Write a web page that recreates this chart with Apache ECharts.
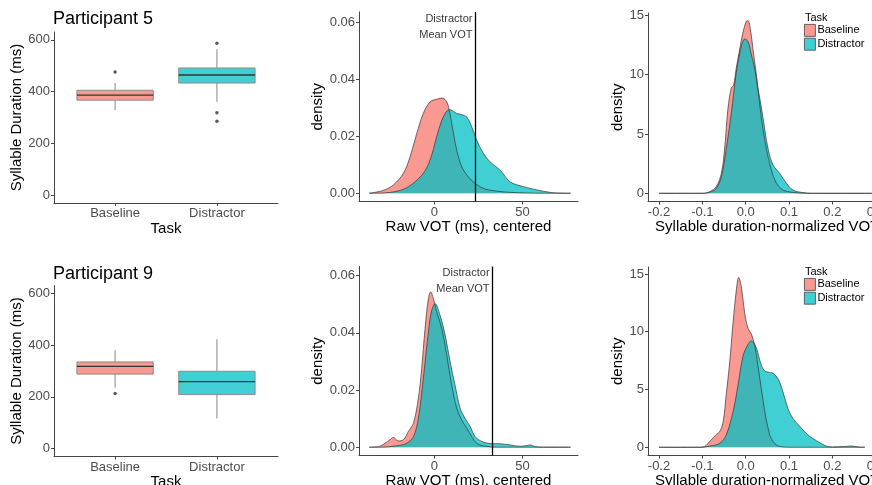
<!DOCTYPE html>
<html>
<head>
<meta charset="utf-8">
<script src="https://cdn.jsdelivr.net/npm/echarts@6/dist/echarts.min.js"></script>
<style>
html, body { margin: 0; padding: 0; background: #fff; }
#main { width: 872px; height: 485px; }
</style>
</head>
<body>
<div id="main"></div>
<script>
var tasks = ['Baseline', 'Distractor'];

// box stats: [x, lower whisker, Q1, median, Q3, upper whisker]
var box5 = [[1, 329, 367, 386, 405, 433], [2, 361, 433, 464, 491, 563]];
var out5 = [[1, 476], [2, 587], [2, 318], [2, 286]];
var box9 = [[1, 235, 288, 318, 335, 382], [2, 117, 209, 259, 299, 423]];
var out9 = [[1, 213]];

// distractor mean VOT (vertical line)
var mean5 = 23.3;
var mean9 = 33;

// raw VOT densities, participant 5
var raw5Base = [[-37, 0], [-29, 0.001], [-23.3, 0.0029], [-17.6, 0.007], [-13.8, 0.0128], [-10, 0.021], [-6.3, 0.028],
  [-2.5, 0.032], [1.3, 0.033], [4.7, 0.0334], [7, 0.032], [8.5, 0.029], [10.8, 0.021], [12.7, 0.015], [15.5, 0.0093],
  [18.4, 0.0064], [22, 0.004], [27.8, 0.0017], [33.5, 0.0009], [39, 0.0005], [46.8, 0.0002], [62, 0], [77.3, 0]];
var raw5Dist = [[-37, 0], [-34.7, 0], [-25, 0.0003], [-17.6, 0.0014], [-12, 0.0035], [-6.3, 0.007], [-2.5, 0.0116],
  [1.3, 0.0198], [4.2, 0.0256], [7, 0.0288], [8.9, 0.0293], [12.7, 0.028], [15.5, 0.0276], [18.4, 0.0267], [21.2, 0.0233],
  [24, 0.0186], [27.8, 0.014], [31.6, 0.011], [37.3, 0.0081], [43, 0.004], [50.6, 0.0023], [58, 0.0012], [65.7, 0.0003],
  [73.7, 0], [77.3, 0]];

// normalized VOT densities, participant 5
var norm5Base = [[-0.2, 0], [-0.098, 0], [-0.083, 0.14], [-0.068, 0.56], [-0.056, 1.7], [-0.048, 4.0], [-0.041, 7.1],
  [-0.033, 8.9], [-0.028, 9.1], [-0.0215, 10.6], [-0.014, 12.1], [-0.006, 13.6], [0.0015, 14.5], [0.0054, 14.55],
  [0.011, 13.8], [0.017, 12.1], [0.025, 9.9], [0.032, 7.6], [0.04, 5.4], [0.048, 3.7], [0.059, 2.0], [0.071, 0.85],
  [0.086, 0.28], [0.109, 0.08], [0.14, 0], [0.3, 0]];
var norm5Dist = [[-0.2, 0], [-0.098, 0], [-0.079, 0.14], [-0.068, 0.4], [-0.056, 1.4], [-0.045, 3.7], [-0.033, 6.8],
  [-0.0215, 10.2], [-0.01, 12.4], [-0.0023, 13.0], [0.0054, 12.8], [0.013, 11.7], [0.021, 10.5], [0.028, 8.9],
  [0.036, 7.3], [0.044, 5.4], [0.052, 3.7], [0.063, 2.4], [0.078, 1.7], [0.094, 0.85], [0.109, 0.28], [0.132, 0.06],
  [0.155, 0], [0.3, 0]];

// raw VOT densities, participant 9
var raw9Base = [[-37, 0], [-31.8, 0.0002], [-28, 0.0014], [-25.2, 0.0026], [-23.3, 0.0034], [-20.5, 0.0022],
  [-17.6, 0.0026], [-14.8, 0.0055], [-11.9, 0.0084], [-9.1, 0.0171], [-7.2, 0.0276], [-5.3, 0.0415], [-3.4, 0.052],
  [-2.1, 0.0543], [-0.6, 0.052], [1.3, 0.0473], [4.2, 0.0415], [7, 0.0322], [9.8, 0.0217], [12.7, 0.0136],
  [15.5, 0.0095], [18.4, 0.0066], [21.2, 0.0037], [24, 0.0014], [27.8, 0.0005], [35.4, 0], [77.3, 0]];
var raw9Dist = [[-37, 0], [-30.9, 0], [-21.4, 0.0005], [-15.7, 0.0014], [-11.9, 0.0037], [-9.1, 0.0101], [-6.3, 0.024],
  [-3.4, 0.0403], [-1.5, 0.0479], [0.4, 0.0502], [3.2, 0.0462], [6.1, 0.0392], [8.9, 0.0299], [11.7, 0.0217],
  [14.6, 0.0136], [17.4, 0.0101], [20.3, 0.0072], [23.1, 0.0037], [26.9, 0.002], [31.6, 0.0013], [37.3, 0.0012],
  [43, 0.0008], [48.7, 0.0003], [52.5, 0.0006], [54.4, 0.0008], [57.2, 0.0002], [61.9, 0], [77.3, 0]];

// normalized VOT densities, participant 9
var norm9Base = [[-0.2, 0], [-0.106, 0], [-0.095, 0.06], [-0.083, 0.5], [-0.075, 0.83], [-0.068, 1.1], [-0.06, 1.35],
  [-0.052, 2.2], [-0.045, 4.5], [-0.037, 7.3], [-0.029, 10.8], [-0.0215, 13.6], [-0.016, 14.7], [-0.01, 13.9],
  [-0.0023, 11.6], [0.0054, 10.3], [0.013, 9.8], [0.021, 8.8], [0.028, 7.1], [0.036, 5.1], [0.044, 3.1], [0.052, 1.6],
  [0.059, 0.77], [0.071, 0.2], [0.086, 0.03], [0.109, 0], [0.275, 0]];
var norm9Dist = [[-0.2, 0], [-0.106, 0], [-0.083, 0.1], [-0.06, 0.34], [-0.045, 1.06], [-0.029, 3.1], [-0.018, 5.3],
  [-0.006, 7.9], [0.0054, 8.9], [0.013, 9.2], [0.021, 8.9], [0.028, 8.2], [0.036, 7.1], [0.044, 6.6], [0.052, 6.5],
  [0.063, 6.4], [0.075, 5.9], [0.086, 4.8], [0.098, 3.3], [0.109, 2.5], [0.125, 1.8], [0.14, 1.2], [0.155, 0.77],
  [0.171, 0.4], [0.186, 0.11], [0.2, 0.03], [0.225, 0.06], [0.244, 0.11], [0.26, 0.03], [0.275, 0]];

// tick labels
var durTicks = [0, 200, 400, 600];
var taskTicks = [1, 2];
var rawXTicks = [0, 50];
var rawYTicks = [0, 0.02, 0.04, 0.06];
var normXTicks = [-0.2, -0.1, 0, 0.1, 0.2, 0.3];
var normYTicks = [0, 5, 10, 15];

var FONT = 'Liberation Sans, Arial, sans-serif';
var fillBase = 'rgba(248,118,109,0.75)';
var fillDist = 'rgba(0,191,196,0.75)';
var boxFills = [fillBase, fillDist];

var chart = echarts.init(document.getElementById('main'));

function axisOf(grid, min, max, ticks, fmt, name, nameGap) {
  return {
    type: 'value', gridIndex: grid, min: min, max: max,
    name: name, nameLocation: 'middle', nameGap: nameGap,
    nameTextStyle: { color: '#000', fontSize: 15, fontFamily: FONT },
    axisLine: { onZero: false, lineStyle: { color: '#444', width: 1 } },
    axisTick: { customValues: ticks, length: 3, lineStyle: { color: '#444' } },
    axisLabel: { customValues: ticks, formatter: fmt, color: '#4d4d4d', fontSize: 13, margin: 4, fontFamily: FONT },
    splitLine: { show: false }
  };
}

function taskName(v) { return tasks[Math.round(v) - 1]; }
function fix2(v) { return v.toFixed(2); }
function fix1(v) { return v.toFixed(1); }
function plain(v) { return String(v); }

function renderBox(params, api) {
  var x = api.value(0);
  var lo = api.coord([x, api.value(1)]);
  var q1 = api.coord([x, api.value(2)]);
  var md = api.coord([x, api.value(3)]);
  var q3 = api.coord([x, api.value(4)]);
  var hi = api.coord([x, api.value(5)]);
  var xl = api.coord([x - 0.375, 0])[0];
  var xr = api.coord([x + 0.375, 0])[0];
  var whisker = { stroke: '#9a9a9a', lineWidth: 1.2 };
  return {
    type: 'group',
    children: [
      { type: 'line', shape: { x1: lo[0], y1: lo[1], x2: q1[0], y2: q1[1] }, style: whisker },
      { type: 'line', shape: { x1: q3[0], y1: q3[1], x2: hi[0], y2: hi[1] }, style: whisker },
      { type: 'rect', shape: { x: xl, y: q3[1], width: xr - xl, height: q1[1] - q3[1] },
        style: { fill: boxFills[params.dataIndex], stroke: '#8c8c8c', lineWidth: 1 } },
      { type: 'line', shape: { x1: xl, y1: md[1], x2: xr, y2: md[1] }, style: { stroke: '#333', lineWidth: 1.3 } }
    ]
  };
}

function density(name, grid, data, fill, extra) {
  var s = {
    name: name, type: 'line', xAxisIndex: grid, yAxisIndex: grid, data: data,
    showSymbol: false, symbol: 'none', smooth: 0.35, silent: true,
    itemStyle: { color: fill },
    lineStyle: { color: '#333', width: 0.7 },
    areaStyle: { color: fill, opacity: 1 }
  };
  if (extra) { for (var k in extra) s[k] = extra[k]; }
  return s;
}

function meanLine(v) {
  return {
    silent: true, symbol: ['none', 'none'], label: { show: false },
    lineStyle: { color: '#000', width: 1.3, type: 'solid' },
    data: [{ xAxis: v }]
  };
}

function annotation(grid, v) {
  return {
    type: 'scatter', xAxisIndex: grid, yAxisIndex: grid, data: [[v, 0.0582]],
    symbolSize: 0, silent: true,
    label: {
      show: true, formatter: 'Distractor\nMean VOT', position: 'left', distance: 3,
      color: '#000', fontSize: 11, lineHeight: 16, fontFamily: FONT
    }
  };
}

var legendData = [
  { name: 'Baseline', itemStyle: { color: fillBase, borderColor: '#444', borderWidth: 0.8 } },
  { name: 'Distractor', itemStyle: { color: fillDist, borderColor: '#444', borderWidth: 0.8 } }
];

function legendAt(top) {
  return {
    orient: 'vertical', left: 804, top: top, padding: 0, icon: 'rect',
    itemWidth: 11, itemHeight: 12, itemGap: 1, selectedMode: false,
    textStyle: { color: '#000', fontSize: 11, fontFamily: FONT, padding: [0, 0, 0, -3] },
    data: legendData
  };
}

function titleAt(text, left, top, size) {
  return {
    text: text, left: left, top: top, padding: 0,
    textStyle: { color: '#000', fontSize: size, fontWeight: 'normal', fontFamily: FONT }
  };
}

// grids may run past the canvas edge, as in the reference
function gridAt(left, top, width, height) {
  return { left: left, top: top, width: width, height: height, outerBoundsMode: 'none', containLabel: false };
}

var option = {
  animation: false,
  backgroundColor: '#fff',
  textStyle: { fontFamily: FONT },
  title: [
    titleAt('Participant 5', 53, 10, 18),
    titleAt('Participant 9', 53, 265, 18),
    titleAt('Task', 805, 12, 11),
    titleAt('Task', 805, 266, 11)
  ],
  legend: [legendAt(24), legendAt(278)],
  grid: [
    gridAt(54, 32, 224, 171),
    gridAt(359, 12, 219, 189.5),
    gridAt(648, 13, 238.5, 188.5),
    gridAt(54, 285.5, 224, 171),
    gridAt(359, 266.5, 219, 189),
    gridAt(648, 267, 238.5, 188.5)
  ],
  xAxis: [
    axisOf(0, 0.4, 2.6, taskTicks, taskName, 'Task', 16),
    axisOf(1, -42.8, 81.5, rawXTicks, plain, 'Raw VOT (ms), centered', 16),
    axisOf(2, -0.2254, 0.325, normXTicks, fix1, 'Syllable duration-normalized VOT', 16),
    axisOf(3, 0.4, 2.6, taskTicks, taskName, 'Task', 16),
    axisOf(4, -42.8, 81.5, rawXTicks, plain, 'Raw VOT (ms), centered', 16),
    axisOf(5, -0.2254, 0.325, normXTicks, fix1, 'Syllable duration-normalized VOT', 16)
  ],
  yAxis: [
    axisOf(0, -30, 630, durTicks, plain, 'Syllable Duration (ms)', 26),
    axisOf(1, -0.0029, 0.0636, rawYTicks, fix2, 'density', 31),
    axisOf(2, -0.69, 15.2, normYTicks, plain, 'density', 19),
    axisOf(3, -30, 630, durTicks, plain, 'Syllable Duration (ms)', 26),
    axisOf(4, -0.0029, 0.0632, rawYTicks, fix2, 'density', 31),
    axisOf(5, -0.71, 15.6, normYTicks, plain, 'density', 19)
  ],
  series: [
    { type: 'custom', xAxisIndex: 0, yAxisIndex: 0, renderItem: renderBox, data: box5, encode: { x: 0, y: [1, 2, 3, 4, 5] }, silent: true },
    { type: 'scatter', xAxisIndex: 0, yAxisIndex: 0, data: out5, symbolSize: 3.5, itemStyle: { color: '#333' }, silent: true },
    density('Baseline', 1, raw5Base, fillBase),
    density('Distractor', 1, raw5Dist, fillDist, { markLine: meanLine(mean5) }),
    annotation(1, mean5),
    density('Baseline', 2, norm5Base, fillBase),
    density('Distractor', 2, norm5Dist, fillDist),
    { type: 'custom', xAxisIndex: 3, yAxisIndex: 3, renderItem: renderBox, data: box9, encode: { x: 0, y: [1, 2, 3, 4, 5] }, silent: true },
    { type: 'scatter', xAxisIndex: 3, yAxisIndex: 3, data: out9, symbolSize: 3.5, itemStyle: { color: '#333' }, silent: true },
    density('Baseline', 4, raw9Base, fillBase),
    density('Distractor', 4, raw9Dist, fillDist, { markLine: meanLine(mean9) }),
    annotation(4, mean9),
    density('Baseline', 5, norm9Base, fillBase),
    density('Distractor', 5, norm9Dist, fillDist)
  ]
};

chart.setOption(option);
</script>
</body>
</html>
